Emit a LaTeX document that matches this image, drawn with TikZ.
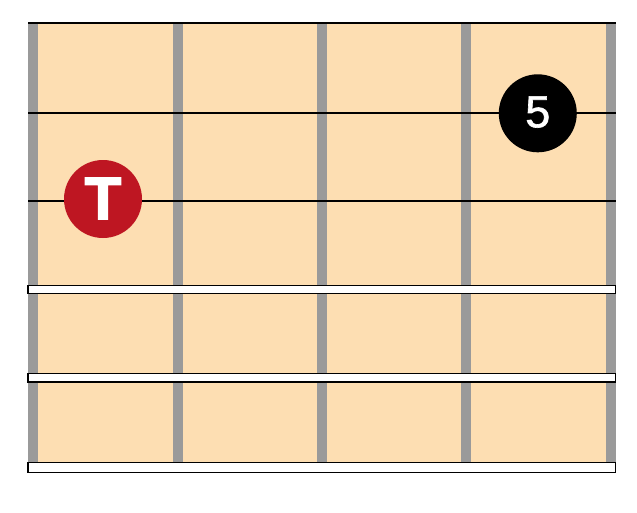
\documentclass[tikz,border=0pt]{standalone}
\usepackage{fontspec}
\setmainfont{Liberation Sans}
\newfontfamily\tfont[FakeBold=2.4]{Liberation Sans Bold}
\newfontfamily\fivefont[FakeBold=1.4]{Liberation Sans}
\definecolor{board}{HTML}{FDDEB2}
\definecolor{fretgray}{HTML}{9A9A9A}
\definecolor{tred}{HTML}{BE1622}
\tikzset{
  fretbar/.style={fill=fretgray, draw=none},
  stringline/.style={draw=black, line width=2pt},
  stripbox/.style={fill=white, draw=black, line width=1.1pt},
  dotT/.style={circle, fill=tred, minimum size=78pt, inner sep=0pt, text=white, font=\tfont\fontsize{60}{60}\selectfont},
  dot5/.style={circle, fill=black, minimum size=78pt, inner sep=0pt, text=white, font=\fivefont\fontsize{45}{45}\selectfont},
}
\begin{document}
\begin{tikzpicture}[x=1pt,y=-1pt]
\useasboundingbox (0,0) rectangle (637,512);
% board
\fill[board] (28,23) rectangle (615.7,467);
% frets
\foreach \fx in {33.3,178.2,322.3,466,610.7}{
  \fill[fretbar] (\fx-5,23) rectangle (\fx+5,467);
}
% strings
\draw[stringline] (28,23) -- (615.7,23);
\draw[stringline] (28,113.3) -- (615.7,113.3);
\draw[stringline] (28,200.7) -- (615.7,200.7);
% white strips
\draw[stripbox] (28,285.3) rectangle (615.7,293.3);
\draw[stripbox] (28,373.3) rectangle (615.7,382);
\draw[stripbox] (28,462.7) rectangle (615.7,472.5);
% dots
\node[dotT] (t) at (103,199) {\raisebox{0.8pt}{T}};
\node[dot5] (f) at (537.8,113.3) {\raisebox{3pt}{5}};
\end{tikzpicture}
\end{document}
